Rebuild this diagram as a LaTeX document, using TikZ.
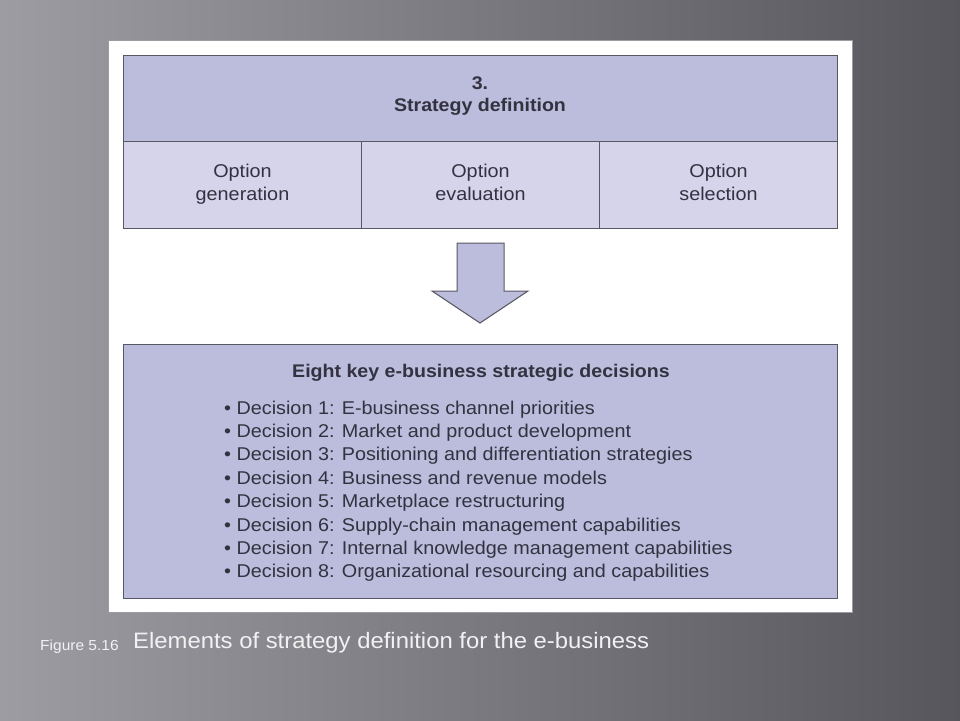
\documentclass[tikz,border=0pt]{standalone}
\usepackage{fontspec}
\setmainfont{Liberation Sans}
\newfontfamily\figfont[FakeStretch=1.07]{Liberation Sans}
\usetikzlibrary{positioning}
\definecolor{bgleft}{RGB}{156,156,162}
\definecolor{bgright}{RGB}{86,86,92}
\definecolor{lilac}{RGB}{188,188,220}
\definecolor{lilaclt}{RGB}{213,212,234}
\definecolor{rule}{RGB}{88,88,100}
\definecolor{ink}{RGB}{50,50,64}
\definecolor{capwhite}{RGB}{242,242,244}

\tikzset{
  box/.style={draw=rule, line width=1pt, inner sep=0pt, anchor=north west},
  txt/.style={text=ink, inner sep=0pt, anchor=base, font=\figfont\fontsize{18.5}{20}\selectfont},
  btxt/.style={txt, font=\figfont\bfseries\fontsize{18.3}{20}\selectfont},
  captxt/.style={text=capwhite, inner sep=0pt, anchor=base west}
}

\begin{document}
\begin{tikzpicture}[x=1pt, y=-1pt]
  \useasboundingbox (0,0) rectangle (960,720);
  \shade[left color=bgleft, right color=bgright] (0,0) rectangle (960,720);
  \node[box, fill=white, draw=rule!60, minimum width=744, minimum height=572] (page) at (108,40) {};

  % strategy definition
  \node[box, fill=lilac, minimum width=714, minimum height=86] (hdr) at (123,55) {};
  \foreach \n [count=\i from 0] in {gen,eval,sel}
    \node[box, fill=lilaclt, minimum width=238, minimum height=87] (\n) at (123+238*\i,141) {};
  \node[btxt] (hdrnum) at (480,89) {3.};
  \node[btxt] (hdrtitle) at (480,111) {Strategy definition};
  \foreach \n/\w in {gen/generation, eval/evaluation, sel/selection} {
    \node[txt] (\n-a) at (\n.north |- 0,177) {Option};
    \node[txt] (\n-b) at (\n.north |- 0,200) {\w};
  }

  % arrow
  \draw[draw=rule, fill=lilac, line width=1pt] (457,243) -- (504,243) -- (504,291) -- (528,291)
    -- (480,323) -- (432,291) -- (457,291) -- cycle;

  % decisions
  \node[box, fill=lilac, minimum width=714, minimum height=254] (dec) at (123,344) {};
  \node[btxt] (dechead) at (481,377) {Eight key e-business strategic decisions};
  \foreach \t [count=\i] in {E-business channel priorities, Market and product development,
      Positioning and differentiation strategies, Business and revenue models,
      Marketplace restructuring, Supply-chain management capabilities,
      Internal knowledge management capabilities, Organizational resourcing and capabilities}
    \node[txt, anchor=base west] (d\i) at (224,{414+23.4*(\i-1)}) {• Decision \i: \t};

  % caption
  \node[captxt, font=\figfont\fontsize{14.5}{16}\selectfont] (fignum) at (40,650) {Figure 5.16};
  \node[captxt, font=\figfont\fontsize{22.3}{24}\selectfont] (figcap) at (133,648) {Elements of strategy definition for the e-business};
\end{tikzpicture}
\end{document}
